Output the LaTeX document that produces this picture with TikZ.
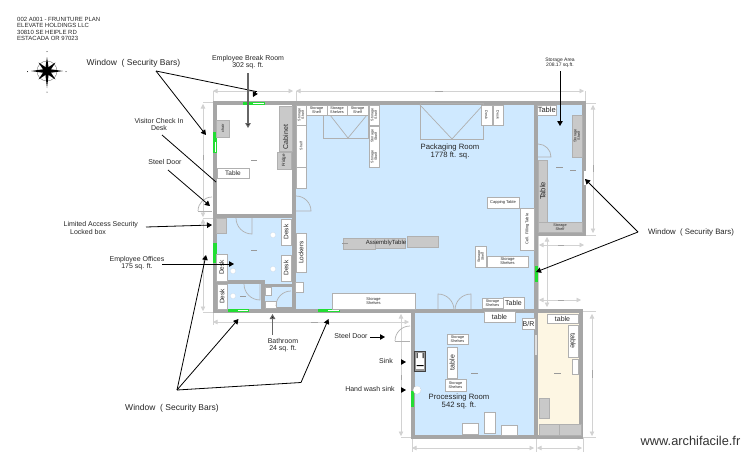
\documentclass[tikz,border=0pt]{standalone}
\usepackage{fontspec}
\setmainfont{Liberation Sans}
\usetikzlibrary{arrows.meta}
\definecolor{wallc}{HTML}{A6A6A6}
\definecolor{roomb}{HTML}{CFE9FF}
\definecolor{roomy}{HTML}{FDF6E3}
\definecolor{grayf}{HTML}{C9C9C9}
\definecolor{edgec}{HTML}{B0B0B0}
\definecolor{dimc}{HTML}{D2D2D2}
\definecolor{winc}{HTML}{22DD33}
\newcounter{fbn}
\newcommand{\fz}[1]{\fontsize{#1}{#1}\selectfont}
% style, x1, y1, x2, y2, rotation, size, text
\newcommand{\fb}[8]{\stepcounter{fbn}\draw[#1] (#2,#3) rectangle (#4,#5) node[pos=.5,rotate=#6,lab,font=\fz{#7}] (fb\arabic{fbn}) {#8};}
\tikzset{
  x=1pt,y=-1pt,
  wall/.style={fill=wallc,draw=none},
  whitebox/.style={fill=white,draw=edgec,line width=.6pt},
  graybox/.style={fill=grayf,draw=edgec,line width=.6pt},
  lab/.style={inner sep=0pt,align=center,text=black!85},
  title/.style={inner sep=0pt,align=center,text=black!85,font=\fz{7}},
  win/.style={fill=winc,draw=none},
  door/.style={draw=edgec,line width=.7pt},
  dimline/.style={draw=dimc,line width=.6pt},
  dimarrow/.style={draw=dimc,line width=.6pt,{Triangle[width=4.5pt,length=4.5pt,fill=dimc]}-{Triangle[width=4.5pt,length=4.5pt,fill=dimc]}},
  leader/.style={draw=black,line width=.8pt},
  ptr/.style={draw=black,line width=.8pt,-{Triangle[width=5.5pt,length=5pt]}},
  thickptr/.style={draw=black!60,line width=1.1pt,-{Triangle[width=5.5pt,length=5pt,fill=black]}},
  compass/.style={fill=black,draw=none},
}
\begin{document}
\begin{tikzpicture}
\useasboundingbox (0,0) rectangle (750,455);
\fill[white] (0,0) rectangle (750,455);

% header
\node[lab,anchor=north west,font=\fz{6},align=left] (hdr) at (17,17.5) {002 A001 - FRUNITURE PLAN\\[.1pt]ELEVATE HOLDINGS LLC\\[.1pt]30810 SE HEIPLE RD\\[.1pt]ESTACADA OR 97023};

% compass
\draw[black!55,line width=.4pt] (47,71) circle (10pt);
\foreach \a in {45,135,225,315}{
  \fill[compass,rotate around={\a:(47,71)}] (47,68.5) -- (59,71) -- (47,73.5) -- cycle;
}
\fill[compass] (31,71) -- (45,69) -- (47,71) -- (45,73) -- cycle;
\fill[compass] (63,71) -- (49,69) -- (47,71) -- (49,73) -- cycle;
\fill[compass] (47,57) -- (45.2,69) -- (47,71) -- (48.8,69) -- cycle;
\fill[compass] (47,88) -- (45.2,73) -- (47,71) -- (48.8,73) -- cycle;
\fill[compass] (47,71) circle (3.6pt);
\fill[black] (47,51.5) circle (.5pt) (47,92) circle (.5pt) (27.5,71.5) circle (.5pt) (66,71.5) circle (.5pt);

% dimension lines
\draw[dimarrow] (213,91) -- (293,91);
\draw[dimarrow] (296,91) -- (584,91);
\draw[dimline] (213,91) -- (213,102) (296,91) -- (296,102) (585,91) -- (585,102);
\draw[dimarrow] (203,104) -- (203,217);
\draw[dimarrow] (203,219) -- (203,311);
\draw[dimline] (203,102) -- (213,102) (203,218) -- (213,218) (203,312) -- (213,312);
\draw[dimarrow] (593,105) -- (593,233);
\draw[dimline] (585,103) -- (596,103) (586,235) -- (596,235);
\draw[dimarrow] (539,245) -- (584,245);
\draw[dimarrow] (539,300) -- (581,300);
\draw[dimarrow] (547,237) -- (547,307);
\draw[dimline] (538,236) -- (538,309);
\draw[dimarrow] (213,322) -- (409,322);
\draw[dimline] (213,312) -- (213,325);
\draw[dimarrow] (401,314) -- (401,436);
\draw[dimline] (401,312) -- (411,312) (401,437) -- (411,437);
\draw[dimarrow] (592,314) -- (592,436);
\draw[dimline] (583,311) -- (596,311) (583,437) -- (596,437);
\draw[dimarrow] (412,448) -- (534,448);
\draw[dimarrow] (537,448) -- (582,448);
\draw[dimline] (412,438) -- (412,452) (536,438) -- (536,452) (583,438) -- (583,452);

% room floors
\fill[roomb] (296,105) rectangle (536,311);
\fill[roomb] (536,105) rectangle (584,234);
\fill[roomb] (215,217) rectangle (294,311);
\fill[roomb] (413,311) rectangle (536,437);
\fill[roomy] (536,311) rectangle (580,437);

% walls
\path[wall] (213,101) rectangle (586,105);
\path[wall] (212.5,101) rectangle (217,313);
\path[wall] (292,101) rectangle (296,313);
\path[wall] (213,214) rectangle (296,218);
\path[wall] (213,309) rectangle (583,313);
\path[wall] (213,280) rectangle (264,284);
\path[wall] (261,280) rectangle (264.5,311);
\path[wall] (264,283.5) rectangle (296,286.5);
\path[wall] (264,307) rectangle (296,310);
\path[wall] (534,101) rectangle (538,313);
\path[wall] (582,101) rectangle (586,236);
\path[wall] (534,232) rectangle (586,236);
\path[wall] (411,309) rectangle (415,439);
\path[wall] (534,309) rectangle (538,439);
\path[wall] (578.5,309) rectangle (583,439);
\path[wall] (411,435) rectangle (583,439);

% white wall strips
\fill[white] (583.5,171) rectangle (585.5,185);
\fill[black!12] (535,335) rectangle (537,355);

% windows
\path[win] (243,102) rectangle (265,105);
\path[win] (213,132) rectangle (216.5,153);
\path[win] (213,243) rectangle (216.5,263);
\path[win] (535,266) rectangle (538,282);
\path[win] (228,309) rectangle (249,312);
\path[win] (318,309) rectangle (340,312);
\path[win] (411,391) rectangle (414,407);
\draw[white,line width=.4pt] (253,103) -- (264,103) (215,142) -- (215,152) (238,310) -- (248,310) (328,310) -- (339,310);

% packaging room furniture
\draw[draw=edgec,line width=1pt,fill=none] (323,105) rectangle (368,138);
\draw[edgec,line width=.7pt] (330,115) -- (348,138) -- (367,115);
\draw[draw=edgec,line width=1pt] (420,103.5) rectangle (483,139);
\draw[edgec,line width=.7pt] (420,105) -- (452,139) -- (483,105);
\fb{whitebox}{296}{105}{306}{125}{90}{3.6}{Storage\\Shelf}
\fb{whitebox}{296}{125}{306}{167}{90}{3.6}{Shelf}
\fb{whitebox}{296}{167}{306}{188}{0}{3}{}
\fb{whitebox}{306}{105}{327}{115}{0}{3.8}{Storage\\Shelf}
\fb{whitebox}{327}{105}{347}{115}{0}{3.8}{Storage\\Shelves}
\fb{whitebox}{347}{105}{368}{115}{0}{3.8}{Storage\\Shelf}
\fb{whitebox}{369}{105}{379}{125}{90}{3.6}{Storage\\Shelf}
\fb{whitebox}{369}{126}{379}{167}{90}{3.6}{Storage\hspace{8pt}Storage\\Shelf\hspace{12pt}Shelf}
\fb{whitebox}{481}{105}{492}{125}{-90}{3.6}{Desk}
\fb{whitebox}{493}{105}{503}{125}{-90}{3.6}{Desk}
\fb{whitebox}{487}{197}{519}{208}{0}{4}{Capping Table}
\fb{whitebox}{520}{208}{534.5}{250}{90}{4}{Cell. Filling Table}
\fb{whitebox}{487}{256}{528}{267}{0}{4}{Storage\\Shelves}
\fb{whitebox}{475}{246}{486.5}{267}{90}{3.6}{Storage\\Shelf}
\fb{whitebox}{482}{298}{503}{308}{0}{3.8}{Storage\\Shelves}
\fb{whitebox}{503}{297}{524}{309}{0}{7}{Table}
\fb{whitebox}{332}{293}{415}{309}{0}{4}{Storage\\Shelves}
\fb{whitebox}{296}{233}{306}{272}{90}{6.5}{Lockers}
\fb{whitebox}{295}{282}{303}{292}{0}{3}{}
\path[fill=grayf,draw=edgec,line width=.6pt] (375,238.5) rectangle (405,248.5);
\path[fill=grayf,draw=edgec,line width=.6pt] (407,236.5) rectangle (438,247.5);
\path[fill=grayf,draw=edgec,line width=.6pt] (343,238) rectangle (375,249);
\node[lab,font=\fz{6}] (asm) at (386,243) {AssemblyTable};
% double door
\draw[door] (438,309) -- (438,294) arc[start angle=90,end angle=0,radius=16pt];
\draw[door] (471,309) -- (471,294) arc[start angle=90,end angle=180,radius=16pt];
% door to break room
\draw[door] (296,196) arc[start angle=90,end angle=0,radius=15pt] -- (296,211);

% break room furniture
\fb{graybox}{216.5}{120}{229}{137}{90}{4}{chair}
\fb{graybox}{279}{106}{292}{151}{90}{7}{\raisebox{0pt}{\hspace{-17pt}Cabinet}}
\fb{graybox}{277}{152}{291}{169}{90}{4.5}{Fridge}
\fb{whitebox}{217}{168}{249}{178}{0}{6.5}{Table}

% offices
\fb{graybox}{216.5}{218}{226}{233}{0}{3}{}
\draw[door] (252,218) -- (252,234) arc[start angle=270,end angle=180,radius=16pt];
\fb{whitebox}{281}{219}{291}{245}{90}{6.5}{Desk}
\fb{whitebox}{281}{255}{291}{281}{90}{6.5}{Desk}
\fb{whitebox}{216}{254}{227}{281}{90}{6.5}{Desk}
\fb{whitebox}{217}{284}{227}{309}{90}{6.5}{Desk}
\draw[door] (260,284) -- (260,300) arc[start angle=270,end angle=180,radius=16pt];
\foreach \cx/\cy in {273/235,233/271,273/269,233/296}{
  \fill[white] (\cx,\cy) circle (2.6pt);
  \draw[black!30,line width=.3pt,densely dotted] (\cx,\cy) circle (2.6pt);
}
% bathroom
\fb{whitebox}{265}{287}{271}{295}{0}{3}{}
\fb{whitebox}{265}{301}{276}{308}{0}{3}{}
\draw[door] (291,291) arc[start angle=90,end angle=180,radius=15pt];

% storage area
\fb{whitebox}{537.5}{105}{556}{115}{0}{7.5}{Table}
\fb{graybox}{572}{115}{582}{157}{90}{3.8}{Storage\\Shelf}
\draw[door] (538,144) arc[start angle=90,end angle=0,radius=13pt] -- (538,157);
\fb{graybox}{538}{160}{547.5}{222}{90}{7.5}{Table}
\fb{graybox}{538}{222}{582}{232}{0}{3.8}{Storage\\Shelf}

% processing room
\fb{whitebox}{484}{311}{515}{322}{0}{7}{table}
\fb{whitebox}{522}{318}{535}{329}{0}{7}{B/R}
\fb{whitebox}{447}{334}{468}{344}{0}{3.8}{Storage\\Shelves}
\fb{whitebox}{447}{347}{457}{378}{90}{7}{table}
\fb{whitebox}{445}{379}{466}{391}{0}{3.8}{Storage\\Shelves}
\draw[fill=black!40,draw=black!75,line width=.7pt] (414.5,351) rectangle (425,371);
\fill[white] (416,353) rectangle (423.5,369);
\fill[black] (416.5,353) rectangle (417.5,358) (422.5,353) rectangle (423.5,358) (416.5,365) rectangle (423.5,366);
\fill[white] (417,390) circle (4pt);
\draw[black!40,line width=.3pt,densely dotted] (417,390) circle (4pt);
\fb{whitebox}{462}{423}{478}{434}{0}{3}{}
\fb{whitebox}{484}{412}{495}{433}{0}{3}{}
\fb{whitebox}{501}{425}{517}{435}{0}{3}{}
% outer steel door on processing room
\draw[door] (395,341) -- (410,341);
\draw[door] (395,341) arc[start angle=180,end angle=90,radius=15pt];
% door at break room left
\draw[door] (198,211) -- (212,211);
\draw[door] (198,211) arc[start angle=180,end angle=90,radius=14pt];

% right room
\fb{whitebox}{547}{314}{578}{323}{0}{7}{table}
\fb{whitebox}{568}{325}{578}{357}{-90}{7}{table}
\fb{whitebox}{572}{359}{578}{374}{0}{3}{}
\fb{graybox}{539}{398}{549}{418}{0}{3}{}
\fb{graybox}{539}{424.5}{559}{435}{0}{3}{}
\fb{graybox}{559}{424.5}{581}{435}{0}{3}{}

% faint area marks
\draw[black!40,line width=.4pt] (251,160) -- (257,160) (251,250) -- (257,250) (240,296) -- (246,296)
  (471,373) -- (478,373) (554,373) -- (561,373) (556,167.5) -- (563,167.5) (570,170) -- (576,170) (342,243) -- (348,243);
\draw[black!35,line width=.4pt] (435,91) -- (443,91) (311,322) -- (318,322) (203,155) -- (203,160) (593,165) -- (593,172) (558,245) -- (564,245) (558,300) -- (564,300) (401,375) -- (401,380) (592,370) -- (592,378);

% labels
\node[lab,font=\fz{8.5}] (winA) at (133.5,63.5) {Window\ \ ( Security Bars)};
\node[title] (brk) at (248,62) {Employee Break Room\\[-.2pt]302 sq. ft.};
\node[lab,font=\fz{5}] (stor) at (560,62.5) {Storage Area\\[.3pt]208.17 sq.ft.};
\node[lab,font=\fz{7.7}] (pack) at (450,152) {Packaging Room\\[.3pt]1778 ft. sq.};
\node[title] (visit) at (159,124.5) {Visitor Check In\\[.5pt]Desk};
\node[title] (steelA) at (165,162) {Steel Door};
\node[title,align=left,anchor=west] (lim) at (63.5,228) {Limited Access Security\\[1pt]\hspace{6.5pt}Locked box};
\node[title] (emp) at (137,263) {Employee Offices\\[.2pt]175 sq. ft.};
\node[lab,font=\fz{7.8}] (winR) at (691,232) {Window\ \ ( Security Bars)};
\node[lab,font=\fz{8.5}] (winB) at (172,408) {Window\ \ ( Security Bars)};
\node[title] (bath) at (283,345) {Bathroom\\[.2pt]24 sq. ft.};
\node[title] (steelB) at (351,336) {Steel Door};
\node[title] (sink) at (386,361) {Sink};
\node[title] (hand) at (370,389) {Hand wash sink};
\node[lab,font=\fz{7.7}] (proc) at (459,402) {Processing Room\\[.3pt]542 sq. ft.};
\node[lab,font=\fz{12.8},text=black!80] (wm) at (690.5,441) {www.archifacile.fr};

% connector coordinates
\coordinate (wa) at (156,71);
\coordinate (waT) at (253,97);
\coordinate (waK) at (256,91.5);
\coordinate (waL) at (206,135);
\coordinate (brkA) at (248,73);
\coordinate (brkB) at (248,128);
\coordinate (stA) at (560,71);
\coordinate (stB) at (560,126);
\coordinate (viA) at (162,135);
\coordinate (viB) at (216,182);
\coordinate (sdA) at (168,170);
\coordinate (sdB) at (210,206);
\coordinate (liA) at (146,227);
\coordinate (liB) at (212,225);
\coordinate (emA) at (162,264);
\coordinate (emB) at (234,264);
\coordinate (wb) at (177,390);
\coordinate (wbA) at (206,255);
\coordinate (wbB) at (238.5,319);
\coordinate (wbK) at (301,382.5);
\coordinate (wbC) at (328.5,319);
\coordinate (baA) at (272.5,335);
\coordinate (baB) at (272.5,314);
\coordinate (sbA) at (370,337);
\coordinate (sbB) at (385,337);
\coordinate (skA) at (402,362);
\coordinate (skB) at (406,362);
\coordinate (hwA) at (402,390);
\coordinate (hwB) at (406,390);
\coordinate (wr) at (638,232);
\coordinate (wrA) at (585,179);
\coordinate (wrB) at (536,272);

% connectors
\draw[ptr] (wa) -- (waL);
\draw[leader] (wa) -- (waK);
\draw[ptr,line width=0pt] (waK) -- (waT);
\draw[thickptr] (brkA) -- (brkB);
\draw[thickptr,draw=black,line width=.9pt] (stA) -- (stB);
\draw[leader] (viA) -- (viB);
\draw[ptr] (sdA) -- (sdB);
\draw[ptr] (liA) -- (liB);
\draw[ptr] (emA) -- (emB);
\draw[ptr] (wb) -- (wbA);
\draw[ptr] (wb) -- (wbB);
\draw[leader] (wb) -- (wbK);
\draw[ptr] (wbK) -- (wbC);
\draw[thickptr] (baA) -- (baB);
\draw[ptr] (sbA) -- (sbB);
\draw[ptr] (skA) -- (skB);
\draw[ptr] (hwA) -- (hwB);
\draw[ptr] (wr) -- (wrA);
\draw[ptr] (wr) -- (wrB);
\end{tikzpicture}
\end{document}
